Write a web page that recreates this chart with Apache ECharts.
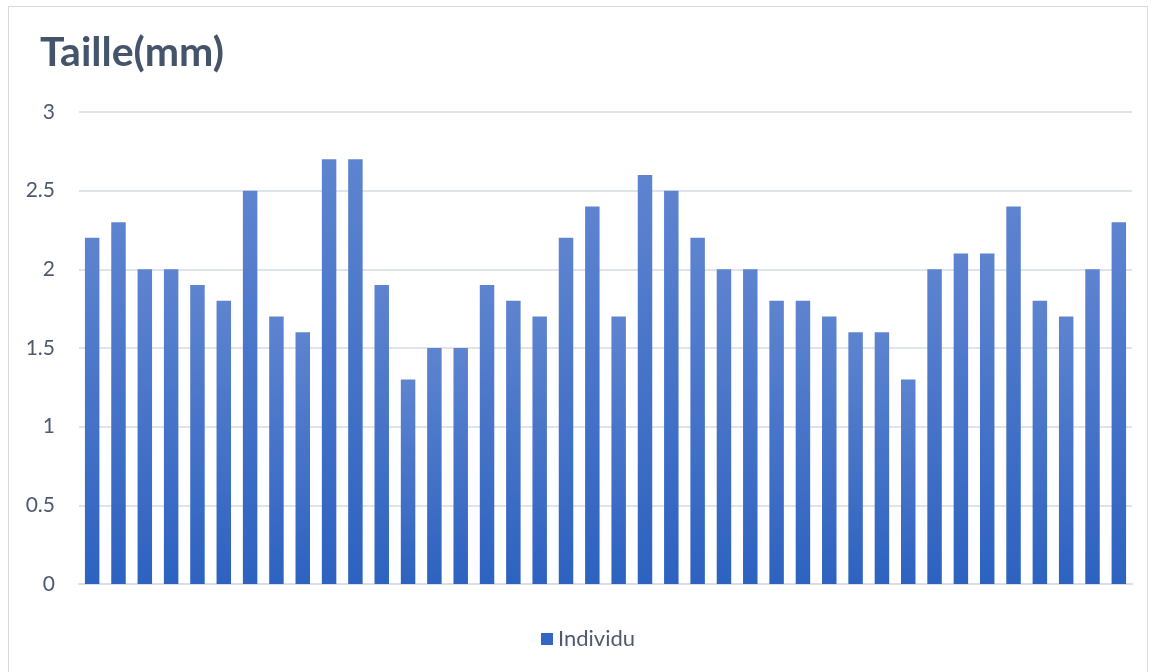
<!DOCTYPE html>
<html>
<head>
<meta charset="utf-8">
<script src="https://cdn.jsdelivr.net/npm/echarts@6/dist/echarts.min.js"></script>
<style>
  html, body { margin: 0; padding: 0; background: #fff; }
  #frame { position: absolute; left: 8px; top: 6px; width: 1138px; height: 680px; border: 1px solid #d9d9d9; }
  #chart { position: absolute; left: 0; top: 0; width: 1154px; height: 672px; }
</style>
</head>
<body>
<div id="frame"></div>
<div id="chart"></div>
<script>
const chartEl = document.getElementById("chart");
const chart = echarts.init(chartEl);

const seriesName = "Individu";
const individus = Array.from({ length: 40 }, (_, i) => String(i + 1));
const tailles = [
  2.2, 2.3, 2.0, 2.0, 1.9, 1.8, 2.5, 1.7, 1.6, 2.7,
  2.7, 1.9, 1.3, 1.5, 1.5, 1.9, 1.8, 1.7, 2.2, 2.4,
  1.7, 2.6, 2.5, 2.2, 2.0, 2.0, 1.8, 1.8, 1.7, 1.6,
  1.6, 1.3, 2.0, 2.1, 2.1, 2.4, 1.8, 1.7, 2.0, 2.3,
];

const barColor = new echarts.graphic.LinearGradient(0, 0, 0, 1, [
  { offset: 0, color: "#5e84d0" },
  { offset: 1, color: "#2d62c0" },
]);

const chartOption = {
  animation: false,
  title: {
    text: "Taille(mm)",
    left: 35,
    top: 27,
    textStyle: {
      fontFamily: "Lato",
      fontWeight: "bold",
      fontSize: 41,
      color: "#44546a",
    },
  },
  grid: {
    left: 79,
    right: 22,
    top: 112,
    bottom: 88,
  },
  legend: {
    bottom: 17,
    left: 536,
    itemWidth: 12,
    itemHeight: 12,
    itemGap: 7,
    icon: "rect",
    textStyle: {
      fontFamily: "Lato",
      fontSize: 22,
      color: "#4e5b6e",
    },
    data: [{ name: seriesName, itemStyle: { color: "#3566c4" } }],
  },
  xAxis: {
    type: "category",
    data: individus,
    axisLine: { show: true, lineStyle: { color: "#d9dde6", width: 2 } },
    axisTick: { show: false },
    axisLabel: { show: false },
  },
  yAxis: {
    type: "value",
    min: 0,
    max: 3,
    interval: 0.5,
    axisLine: { show: false },
    axisTick: { show: false },
    axisLabel: {
      margin: 24,
      fontFamily: "Lato",
      fontSize: 21,
      color: "#4e5b6e",
    },
    splitLine: {
      show: true,
      lineStyle: { color: "#dfe3ea", width: 2 },
    },
  },
  series: [
    {
      name: seriesName,
      type: "bar",
      data: tailles,
      barCategoryGap: "45%",
      itemStyle: { color: barColor },
    },
  ],
};

chart.setOption(chartOption);

window.addEventListener("resize", () => {
  chart.resize();
});
</script>
</body>
</html>
